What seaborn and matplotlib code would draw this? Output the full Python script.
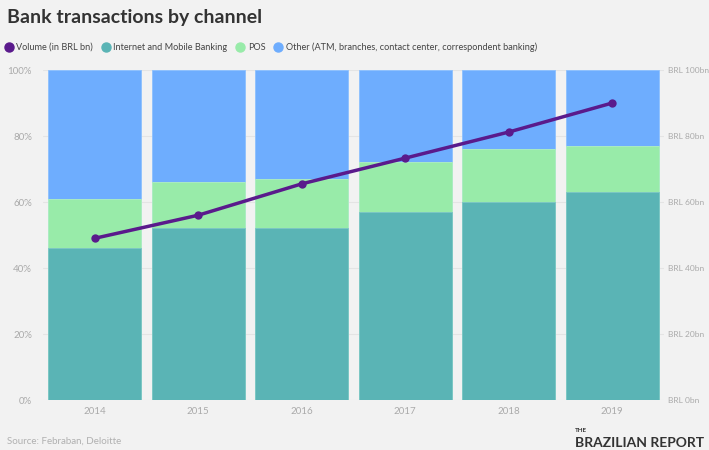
import numpy as np
import pandas as pd
import matplotlib
matplotlib.use("Agg")
import matplotlib.pyplot as plt
from matplotlib.lines import Line2D
import seaborn as sns

years = ["2014", "2015", "2016", "2017", "2018", "2019"]
internet_mobile = [46, 52, 52, 57, 60, 63]
pos = [15, 14, 15, 15, 16, 14]
other = [39, 34, 33, 28, 24, 23]
volume_bn = [49, 56, 65.5, 73.3, 81.2, 90]

C_TEAL = "#5ab4b5"
C_POS = "#98eba9"
C_OTHER = "#6eadfe"
C_PURPLE = "#5a1a8c"
BG = "#f2f2f2"
TXT = "#aaaaaa"

sns.set_theme(style="white")
plt.rcParams["font.family"] = ["Lato", "DejaVu Sans"]

df = pd.DataFrame({"year": years, "im": internet_mobile, "pos": pos, "other": other})
df["top_pos"] = df["im"] + df["pos"]
df["top_other"] = df["top_pos"] + df["other"]

fig = plt.figure(figsize=(7.09, 4.5), dpi=100, facecolor=BG)
ax = fig.add_axes([43/709, 50/450, 621/709, 330/450])
ax.set_facecolor(BG)

for y in range(0, 101, 20):
    ax.axhline(y, color="#e4e4e4", lw=0.8, zorder=0)

sns.barplot(data=df, x="year", y="top_other", color=C_OTHER, width=0.9, ax=ax,
            saturation=1, edgecolor="#8cc0ff", linewidth=0.6, zorder=2)
sns.barplot(data=df, x="year", y="top_pos", color=C_POS, width=0.9, ax=ax,
            saturation=1, edgecolor="#b0f0bf", linewidth=0.6, zorder=2)
sns.barplot(data=df, x="year", y="im", color=C_TEAL, width=0.9, ax=ax,
            saturation=1, edgecolor="#7cc6c6", linewidth=0.6, zorder=2)

ax.set_xlim(-0.5, 5.5)
ax.set_ylim(0, 100)
ax.set_yticks(range(0, 101, 20))
ax.set_yticklabels([f"{v}%" for v in range(0, 101, 20)])
ax.set_xlabel("")
ax.set_ylabel("")
ax.tick_params(axis="both", colors=TXT, labelsize=7, length=0)
ax.tick_params(axis="y", pad=8)
ax.tick_params(axis="x", pad=5)
for s in ax.spines.values():
    s.set_visible(False)

ax2 = ax.twinx()
sns.lineplot(x=np.arange(len(years)), y=volume_bn, ax=ax2, color=C_PURPLE, lw=2.5,
             marker="o", markersize=6, markeredgewidth=0, zorder=5)
ax2.set_ylim(0, 100)
ax2.set_yticks(range(0, 101, 20))
ax2.set_yticklabels([f"BRL {v}bn" for v in range(0, 101, 20)])
ax2.tick_params(axis="y", colors=TXT, labelsize=6, length=0, pad=3)
for s in ax2.spines.values():
    s.set_visible(False)
ax2.set_ylabel("")

fig.text(7/709, 1 - 18/450, "Bank transactions by channel", fontsize=14, fontweight="bold",
         color="#333333", va="center", ha="left")

handles = [
    Line2D([], [], marker="o", ls="", color=C_PURPLE, markersize=6.5),
    Line2D([], [], marker="o", ls="", color=C_TEAL, markersize=6.5),
    Line2D([], [], marker="o", ls="", color=C_POS, markersize=6.5),
    Line2D([], [], marker="o", ls="", color=C_OTHER, markersize=6.5),
]
labels = ["Volume (in BRL bn)", "Internet and Mobile Banking", "POS",
          "Other (ATM, branches, contact center, correspondent banking)"]
fig.legend(handles, labels, loc="center left", bbox_to_anchor=(0, 1 - 47/450),
           ncol=4, frameon=False, handletextpad=0.2, columnspacing=0.7,
           labelcolor="#444444", borderaxespad=0, borderpad=0.3, handlelength=1.3,
           prop={"size": 6.6})

fig.text(7/709, 1 - 441/450, "Source: Febraban, Deloitte", fontsize=7, color="#b0b0b0",
         va="center", ha="left")
fig.text(575/709, 1 - 431/450, "THE", fontsize=4.5, fontweight="bold", color="#333333",
         va="center", ha="left")
fig.text(575/709, 1 - 443/450, "BRAZILIAN REPORT", fontsize=10, fontweight="bold",
         color="#333333", va="center", ha="left")

fig.savefig("out.png", dpi=100, facecolor=BG)
